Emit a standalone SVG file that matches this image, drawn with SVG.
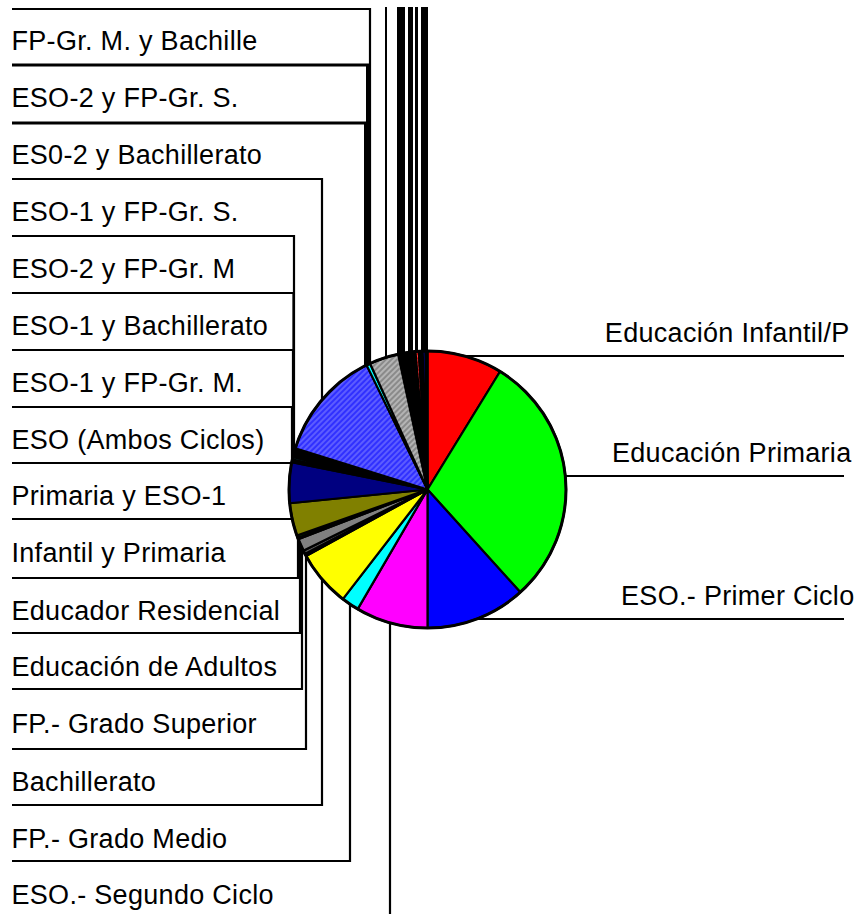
<svg xmlns="http://www.w3.org/2000/svg" width="857" height="914" viewBox="0 0 857 914">
<style>
text{font-family:"Liberation Sans",Arial,sans-serif;font-size:27px;letter-spacing:0.3px;fill:#000}
.r{text-anchor:end}
.c{fill:none;stroke:#000;stroke-width:2.2}
.s{stroke:#000;stroke-width:2.2;stroke-linejoin:round}
</style>
<defs>
<pattern id="hb" width="4" height="4" patternUnits="userSpaceOnUse" patternTransform="rotate(45)"><rect width="4" height="4" fill="#3030ff"/><line x1="1" y1="0" x2="1" y2="4" stroke="#7a7aff" stroke-width="1.2"/></pattern>
<pattern id="hg" width="4" height="4" patternUnits="userSpaceOnUse" patternTransform="rotate(45)"><rect width="4" height="4" fill="#8a8a8a"/><line x1="1" y1="0" x2="1" y2="4" stroke="#d0d0d0" stroke-width="1.2"/></pattern>
<pattern id="hr" width="3" height="3" patternUnits="userSpaceOnUse" patternTransform="rotate(45)"><rect width="3" height="3" fill="#ff0000"/><line x1="1" y1="0" x2="1" y2="3" stroke="#ff8080" stroke-width="1"/></pattern>
</defs>
<g id="connectors">
<polyline class="c" points="12,9 370,9 370,372"/>
<polyline class="c" points="12,65 367.5,65 367.5,372" style="stroke-width:3"/>
<polyline class="c" points="12,123 365.5,123 365.5,374" style="stroke-width:3"/>
<polyline class="c" points="12,179 322,179 322,420"/>
<polyline class="c" points="12,236 294,236 294,470"/>
<polyline class="c" points="12,293 293.5,293 293.5,470"/>
<polyline class="c" points="12,350 293,350 293,472"/>
<polyline class="c" points="12,407 292,407 292,475"/>
<polyline class="c" points="12,463 291,463 291,480"/>
<polyline class="c" points="12,519 292,519 292,505"/>
<polyline class="c" points="12,578 298,578 298,530"/>
<polyline class="c" points="12,633 300,633 300,535"/>
<polyline class="c" points="12,689 302,689 302,540"/>
<polyline class="c" points="12,749 306,749 306,548"/>
<polyline class="c" points="12,805 322,805 322,570"/>
<polyline class="c" points="12,861 350,861 350,600"/>
<polyline class="c" points="12,918 390,918 390,620"/>
<line class="c" x1="386" y1="7" x2="386" y2="380" style="stroke-width:2"/>
<line class="c" x1="401" y1="7" x2="401" y2="380" style="stroke-width:8"/>
<line class="c" x1="410.5" y1="7" x2="410.5" y2="380" style="stroke-width:5"/>
<line class="c" x1="416.5" y1="7" x2="416.5" y2="380" style="stroke-width:3"/>
<line class="c" x1="424.5" y1="7" x2="424.5" y2="380" style="stroke-width:7"/>
<polyline class="c" points="844,356 440,356"/>
<polyline class="c" points="844,476 560,476"/>
<polyline class="c" points="844,619 470,619"/>
</g>
<g id="pie">
<path class="s" fill="#ff0000" d="M427.5,489.5 L427.5,351 A138.5,138.5 0 0 1 500.07,371.54 Z"/>
<path class="s" fill="#00ff00" d="M427.5,489.5 L500.07,371.54 A138.5,138.5 0 0 1 520.35,592.27 Z"/>
<path class="s" fill="#0000ff" d="M427.5,489.5 L520.35,592.27 A138.5,138.5 0 0 1 427.5,628 Z"/>
<path class="s" fill="#ff00ff" d="M427.5,489.5 L427.5,628 A138.5,138.5 0 0 1 357.63,609.08 Z"/>
<path class="s" fill="#00ffff" d="M427.5,489.5 L357.63,609.08 A138.5,138.5 0 0 1 342.81,599.08 Z"/>
<path class="s" fill="#ffff00" d="M427.5,489.5 L342.81,599.08 A138.5,138.5 0 0 1 306.02,556.01 Z"/>
<path class="s" fill="#000000" d="M427.5,489.5 L306.02,556.01 A138.5,138.5 0 0 1 304.87,553.88 Z"/>
<path class="s" fill="#555555" d="M427.5,489.5 L304.87,553.88 A138.5,138.5 0 0 1 303.22,550.65 Z"/>
<path class="s" fill="#808080" d="M427.5,489.5 L303.22,550.65 A138.5,138.5 0 0 1 298.2,539.14 Z"/>
<path class="s" fill="#000000" d="M427.5,489.5 L298.2,539.14 A138.5,138.5 0 0 1 297.68,537.78 Z"/>
<path class="s" fill="#008000" d="M427.5,489.5 L297.68,537.78 A138.5,138.5 0 0 1 296.87,535.51 Z"/>
<path class="s" fill="#808000" d="M427.5,489.5 L296.87,535.51 A138.5,138.5 0 0 1 289.68,503.25 Z"/>
<path class="s" fill="#000080" d="M427.5,489.5 L289.68,503.25 A138.5,138.5 0 0 1 291.73,462.12 Z"/>
<path class="s" fill="#000000" d="M427.5,489.5 L291.73,462.12 A138.5,138.5 0 0 1 292.34,459.29 Z"/>
<path class="s" fill="#008080" d="M427.5,489.5 L292.34,459.29 A138.5,138.5 0 0 1 292.88,456.94 Z"/>
<path class="s" fill="#000000" d="M427.5,489.5 L292.88,456.94 A138.5,138.5 0 0 1 295.26,448.31 Z"/>
<path class="s" fill="url(#hb)" d="M427.5,489.5 L295.26,448.31 A138.5,138.5 0 0 1 366.57,365.13 Z"/>
<path class="s" fill="#00ffff" d="M427.5,489.5 L366.57,365.13 A138.5,138.5 0 0 1 370.07,363.47 Z"/>
<path class="s" fill="url(#hg)" d="M427.5,489.5 L370.07,363.47 A138.5,138.5 0 0 1 398.23,354.13 Z"/>
<path class="s" fill="#000000" d="M427.5,489.5 L398.23,354.13 A138.5,138.5 0 0 1 415.43,351.53 Z"/>
<path class="s" fill="url(#hr)" d="M427.5,489.5 L415.43,351.53 A138.5,138.5 0 0 1 418.8,351.27 Z"/>
<path class="s" fill="#000000" d="M427.5,489.5 L418.8,351.27 A138.5,138.5 0 0 1 422.67,351.08 Z"/>
<path class="s" fill="#0000ff" d="M427.5,489.5 L422.67,351.08 A138.5,138.5 0 0 1 425.56,351.01 Z"/>
<path class="s" fill="#000000" d="M427.5,489.5 L425.56,351.01 A138.5,138.5 0 0 1 427.5,351 Z"/>
<circle cx="427.5" cy="489.5" r="138.5" fill="none" stroke="#000" stroke-width="3"/>
</g>
<g id="label-infantil-p"><text class="r" x="849.5" y="342">Educación Infantil/P</text></g>
<g id="label-primaria"><text class="r" x="851.5" y="462">Educación Primaria</text></g>
<g id="label-eso1"><text class="r" x="854.5" y="605">ESO.- Primer Ciclo</text></g>
<g id="label-fpgm-bach"><text x="11.5" y="50">FP-Gr. M. y Bachille</text></g>
<g id="label-eso2-fpgs"><text x="11.5" y="107">ESO-2 y FP-Gr. S.</text></g>
<g id="label-es02-bach"><text x="11.5" y="164">ES0-2 y Bachillerato</text></g>
<g id="label-eso1-fpgs"><text x="11.5" y="221">ESO-1 y FP-Gr. S.</text></g>
<g id="label-eso2-fpgm"><text x="11.5" y="278">ESO-2 y FP-Gr. M</text></g>
<g id="label-eso1-bach"><text x="11.5" y="334.5">ESO-1 y Bachillerato</text></g>
<g id="label-eso1-fpgm"><text x="11.5" y="391.5">ESO-1 y FP-Gr. M.</text></g>
<g id="label-eso-ambos"><text x="11.5" y="448.5">ESO (Ambos Ciclos)</text></g>
<g id="label-prim-eso1"><text x="11.5" y="505">Primaria y ESO-1</text></g>
<g id="label-inf-prim"><text x="11.5" y="562">Infantil y Primaria</text></g>
<g id="label-residencial"><text x="11.5" y="620">Educador Residencial</text></g>
<g id="label-adultos"><text x="11.5" y="676">Educación de Adultos</text></g>
<g id="label-fpgs"><text x="11.5" y="733">FP.- Grado Superior</text></g>
<g id="label-bach"><text x="11.5" y="791">Bachillerato</text></g>
<g id="label-fpgmed"><text x="11.5" y="848">FP.- Grado Medio</text></g>
<g id="label-eso2"><text x="11.5" y="904">ESO.- Segundo Ciclo</text></g>
</svg>
